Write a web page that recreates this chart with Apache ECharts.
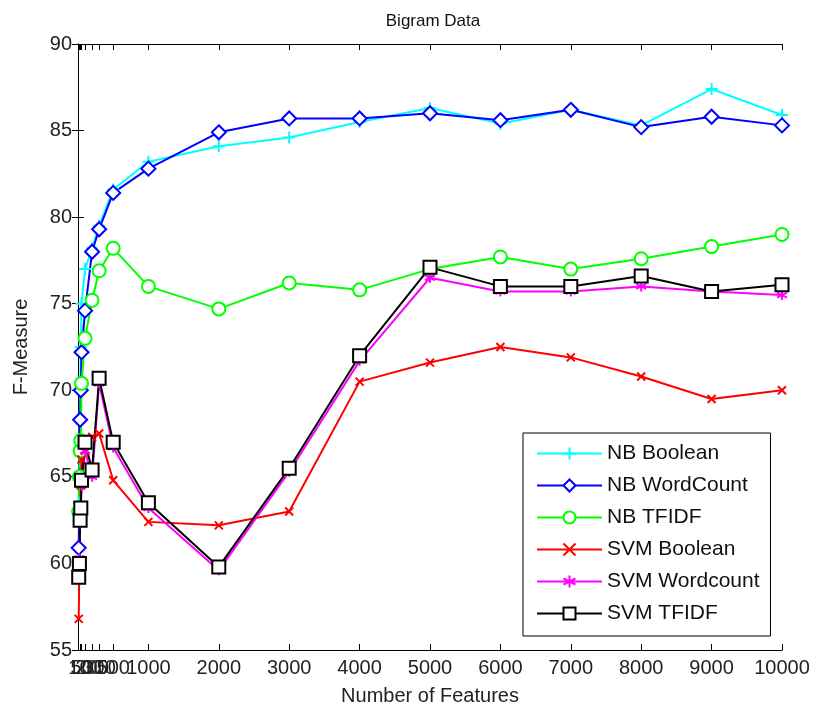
<!DOCTYPE html>
<html>
<head>
<meta charset="utf-8">
<script src="https://cdn.jsdelivr.net/npm/echarts@6/dist/echarts.min.js"></script>
<style>
html, body { margin: 0; padding: 0; background: #fff; }
#chart { width: 813px; height: 711px; }
</style>
</head>
<body>
<div id="chart"></div>
<script>
// number of features (x) and F-measure values per method
var features = [10, 20, 30, 40, 50, 100, 200, 300, 500, 1000, 2000, 3000, 4000, 5000, 6000, 7000, 8000, 9000, 10000];
var xTicks = [10, 20, 30, 40, 50, 100, 200, 300, 500, 1000, 2000, 3000, 4000, 5000, 6000, 7000, 8000, 9000, 10000];
var xLabels = [20, 50, 100, 200, 300, 500, 1000, 2000, 3000, 4000, 5000, 6000, 7000, 8000, 9000, 10000];

var nbBoolean   = [63.5, 66.5, 70.0, 72.5, 75.0, 77.0, 78.2, 79.5, 81.6, 83.2, 84.1, 84.6, 85.5, 86.3, 85.4, 86.2, 85.3, 87.4, 85.9];
var nbWordCount = [60.9, 65.0, 68.3, 70.0, 72.2, 74.6, 78.0, 79.3, 81.4, 82.8, 84.9, 85.7, 85.7, 86.0, 85.6, 86.2, 85.2, 85.8, 85.3];
var nbTfidf     = [63.0, 65.0, 66.5, 67.1, 70.4, 73.0, 75.2, 76.9, 78.2, 76.0, 74.7, 76.2, 75.8, 77.0, 77.7, 77.0, 77.6, 78.3, 79.0];
var svmBoolean  = [56.8, 60.0, 62.5, 64.5, 66.0, 66.5, 67.3, 67.5, 64.8, 62.4, 62.2, 63.0, 70.5, 71.6, 72.5, 71.9, 70.8, 69.5, 70.0];
var svmWordcount= [59.5, 60.3, 62.3, 63.0, 64.5, 66.5, 65.0, 70.4, 66.7, 63.2, 59.6, 65.3, 71.7, 76.5, 75.7, 75.7, 76.0, 75.7, 75.5];
var svmTfidf    = [59.2, 60.0, 62.5, 63.2, 64.8, 67.0, 65.4, 70.7, 67.0, 63.5, 59.8, 65.5, 72.0, 77.1, 76.0, 76.0, 76.6, 75.7, 76.1];

function pairs(ys) {
  return features.map(function (x, i) { return [x, ys[i]]; });
}

var plusSym = 'path://M5,0L5,10M0,5L10,5';
var crossSym = 'path://M0,0L10,10M0,10L10,0';
var starSym = 'path://M5,0L5,10M0,2.5L10,7.5M0,7.5L10,2.5';

function mk(name, data, color, symbol, size) {
  return {
    name: name,
    type: 'line',
    data: pairs(data),
    symbol: symbol,
    symbolSize: size,
    showAllSymbol: true,
    lineStyle: { color: color, width: 2 },
    itemStyle: { color: color, borderColor: color, borderWidth: 2 },
    animation: false
  };
}

var chart = echarts.init(document.getElementById('chart'));
var axisFont = { fontFamily: 'Liberation Sans', fontSize: 20, color: '#222' };

chart.setOption({
  backgroundColor: '#fff',
  animation: false,
  title: {
    text: 'Bigram Data',
    left: 428, top: 8, textAlign: 'center',
    textStyle: { fontFamily: 'Liberation Sans', fontSize: 17, fontWeight: 'normal', color: '#111' }
  },
  grid: { left: 78, right: 31, top: 44, bottom: 61 },
  legend: {
    orient: 'vertical',
    left: 523, top: 433,
    itemWidth: 65, itemHeight: 15, itemGap: 11,
    padding: [10, 11, 12, 13],
    backgroundColor: '#fff',
    borderColor: '#000', borderWidth: 1,
    textStyle: { fontFamily: 'Liberation Sans', fontSize: 21, color: '#111' },
    data: ['NB Boolean', 'NB WordCount', 'NB TFIDF', 'SVM Boolean', 'SVM Wordcount', 'SVM TFIDF']
  },
  xAxis: [{
    type: 'value', min: 0, max: 10000, position: 'bottom',
    name: 'Number of Features', nameLocation: 'middle', nameGap: 36,
    nameTextStyle: { fontFamily: 'Liberation Sans', fontSize: 20, color: '#222' },
    axisLine: { lineStyle: { color: '#000', width: 1 } },
    axisTick: { inside: true, length: 6, customValues: xTicks, lineStyle: { color: '#000' } },
    axisLabel: Object.assign({ customValues: xLabels, margin: 8, formatter: function (v) { return String(v); } }, axisFont),
    splitLine: { show: false }
  }, {
    type: 'value', min: 0, max: 10000, position: 'top',
    axisLine: { lineStyle: { color: '#000', width: 1 } },
    axisTick: { inside: true, length: 6, customValues: xTicks, lineStyle: { color: '#000' } },
    axisLabel: { show: false },
    splitLine: { show: false }
  }],
  yAxis: [{
    type: 'value', min: 55, max: 90, interval: 5, position: 'left',
    name: 'F-Measure', nameLocation: 'middle', nameGap: 47,
    nameTextStyle: { fontFamily: 'Liberation Sans', fontSize: 20, color: '#222' },
    axisLine: { show: true, lineStyle: { color: '#000', width: 1 } },
    axisTick: { show: true, inside: true, length: 6, lineStyle: { color: '#000' } },
    axisLabel: Object.assign({ margin: 6 }, axisFont),
    splitLine: { show: false }
  }, {
    type: 'value', min: 55, max: 90, interval: 5, position: 'right',
    axisLine: { show: true, lineStyle: { color: '#000', width: 1 } },
    axisTick: { show: true, inside: true, length: 6, lineStyle: { color: '#000' } },
    axisLabel: { show: false },
    splitLine: { show: false }
  }],
  series: [
    mk('NB Boolean', nbBoolean, '#00ffff', plusSym, 12),
    mk('NB WordCount', nbWordCount, '#0000ff', 'emptyDiamond', 14),
    mk('NB TFIDF', nbTfidf, '#00ff00', 'emptyCircle', 13),
    mk('SVM Boolean', svmBoolean, '#ff0000', crossSym, 8),
    mk('SVM Wordcount', svmWordcount, '#ff00ff', starSym, 10),
    mk('SVM TFIDF', svmTfidf, '#000000', 'emptyRect', 13)
  ]
});
</script>
</body>
</html>
